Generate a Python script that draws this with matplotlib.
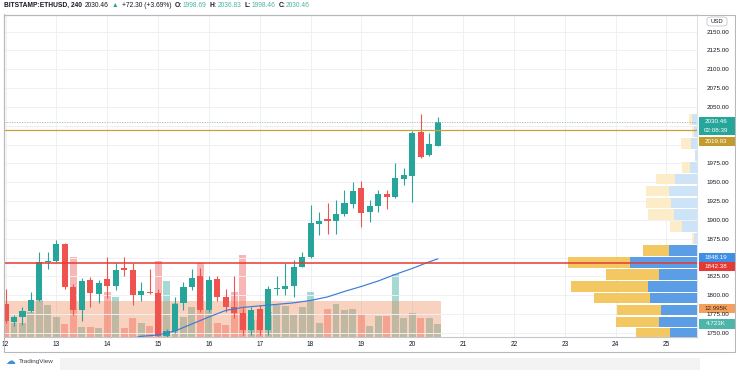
import numpy as np
import matplotlib
matplotlib.use("Agg")
import matplotlib.pyplot as plt
from matplotlib.patches import Rectangle, FancyBboxPatch
from matplotlib.transforms import blended_transform_factory

plt.rcParams['font.family'] = ['Liberation Sans', 'DejaVu Sans']

# BITSTAMP:ETHUSD 4h candles, first one is the 12th 00:00
opens = [1788, 1765, 1771, 1779, 1794, 1844, 1846, 1868, 1811, 1781,
         1820, 1802, 1821, 1812, 1836, 1833, 1801, 1805, 1803, 1746,
         1752, 1790, 1811, 1825, 1781, 1821, 1798, 1784, 1776, 1754,
         1782, 1754, 1808, 1808, 1812, 1838, 1851, 1895, 1901, 1898,
         1908, 1921, 1942, 1910, 1918, 1934, 1930, 1955, 1958, 2017,
         1986, 1998.69]
highs = [1808, 1774, 1785, 1804, 1858, 1858, 1874, 1869, 1815, 1823,
         1824, 1820, 1851, 1843, 1851, 1843, 1818, 1835, 1808, 1755,
         1798, 1818, 1835, 1836, 1825, 1825, 1809, 1825, 1783, 1785,
         1787, 1812, 1825, 1843, 1847, 1858, 1920, 1911, 1923, 1927,
         1940, 1951, 1952, 1927, 1940, 1940, 1976, 1969, 2018, 2041,
         2015, 2036.83]
lows = [1763, 1759, 1761, 1778, 1792, 1835, 1844, 1808, 1774, 1766,
        1784, 1790, 1796, 1807, 1825, 1787, 1792, 1802, 1741, 1744,
        1750, 1781, 1807, 1778, 1778, 1792, 1778, 1770, 1747, 1747,
        1747, 1747, 1800, 1800, 1798, 1837, 1849, 1880, 1882, 1882,
        1905, 1916, 1891, 1897, 1911, 1914, 1929, 1947, 1924, 1982,
        1985, 1998.46]
closes = [1766, 1771, 1779, 1794, 1844, 1846, 1868, 1811, 1781, 1819,
          1803, 1817, 1812, 1834, 1833, 1801, 1806, 1803, 1746, 1752,
          1789, 1811, 1823, 1781, 1820, 1798, 1784, 1776, 1754, 1781,
          1754, 1808, 1809, 1812, 1837, 1851, 1896, 1899, 1898, 1908,
          1922, 1939, 1909, 1918, 1934, 1930, 1956, 1959, 2015, 1984,
          2001, 2030.46]
# volume, thousands
volumes = [6.2, 5.2, 5.2, 9.2, 13.4, 11.6, 7.3, 4.7, 29.0, 3.6,
           3.6, 3.3, 16.4, 14.6, 3.2, 7.0, 5.0, 4.0, 27.6, 20.3,
           12.2, 7.2, 11.0, 26.8, 9.8, 5.0, 4.4, 16.4, 29.8, 6.2,
           6.2, 9.1, 11.6, 11.1, 8.0, 10.8, 16.4, 5.2, 10.1, 12.0,
           9.7, 10.1, 8.3, 4.0, 7.6, 7.6, 22.9, 6.8, 8.8, 6.8,
           6.8, 4.723]
vol_ma = 12.995

# blue moving average, read at candle indices
ma_idx = [15, 16, 18, 20, 22, 24, 26, 28, 30, 32, 34, 36, 38, 40, 42, 44, 46, 48, 50, 51]
ma_vals = [1743, 1745.6, 1747.4, 1752.7, 1762, 1771.3, 1780, 1784, 1786, 1788,
           1790, 1793.2, 1797.9, 1805.2, 1811.8, 1819.1, 1827.8, 1835.7, 1844.4, 1848.4]

# visible range volume profile, rows from bottom to top
prof_up = [27, 38, 36.3, 47.3, 49, 38, 67, 28, 3, 14.7, 23, 26.3, 28, 22, 7, 2, 6.3, 3, 4.7]
prof_down = [33.7, 43.3, 43.4, 55.7, 76.7, 53.3, 61.7, 26, 2.3, 12.6, 25.7, 24.4, 22.7, 19.3, 8.3, 0, 10, 2, 3.3]
value_area_rows = 8

days = list(range(12, 26))
price_ticks = np.arange(1750, 2151, 25)
hidden_ticks = [1850, 2000, 2025]

last_price = 2030.46
prev_close = 2019.93
support = 1842.38
va_high = 1848.19

GREEN = '#26a69a'
RED = '#ef5350'
TEXT = '#131722'

W_PX, H_PX = 736, 370
fig = plt.figure(figsize=(W_PX / 100, H_PX / 100), dpi=100)
L, R, T, B = 3.5, 697, 14.5, 337
axv = fig.add_axes([L / W_PX, 1 - B / H_PX, (R - L) / W_PX, (B - T) / H_PX])
axp = axv.twinx()
axr = axp.twiny()

n = len(opens)
idx = np.arange(n)
o = np.array(opens); c = np.array(closes); h = np.array(highs); lo = np.array(lows)
up = c >= o

xmin, xmax = -0.24, 81.6
ymin, ymax = 1744.7, 2172.6
axv.set_xlim(xmin, xmax)
axp.set_ylim(ymin, ymax)
vmax = 116.9
axv.set_ylim(0, vmax)

# grid
for d in range(len(days)):
    axv.axvline(d * 6, color='#eef0f4', lw=0.7, zorder=0)
for p in price_ticks:
    axp.axhline(p, color='#eef0f4', lw=0.7, zorder=0)

# volume bars + moving average band
vcol = [GREEN if u else RED for u in up]
axv.bar(idx, volumes, width=0.82, color=vcol, alpha=0.42, lw=0, zorder=1)
axv.fill_between([-0.5, n - 0.6], 0, vol_ma, color='#f08250', alpha=0.36, lw=0, zorder=2)

# candles
ccol = np.where(up, GREEN, RED)
axp.vlines(idx, lo, h, colors=ccol, lw=0.8, zorder=3)
body = np.maximum(np.abs(c - o), 1.2)
axp.bar(idx, body, bottom=np.minimum(o, c), width=0.72, color=ccol, lw=0, zorder=4)

axp.plot(ma_idx, ma_vals, color='#3d7bd6', lw=0.85, zorder=5)

# volume profile on the right
edges = np.linspace(min(lows), max(highs), len(prof_up) + 1)
rowh = edges[1] - edges[0]
centers = edges[:-1] + rowh / 2
dark = np.arange(len(prof_up)) < value_area_rows
axr.barh(centers, prof_up, height=rowh * 0.9, left=0,
         color=np.where(dark, '#5b9ee6', '#cde3f7'), lw=0, zorder=2)
axr.barh(centers, prof_down, height=rowh * 0.9, left=prof_up,
         color=np.where(dark, '#f3c862', '#fcecc8'), lw=0, zorder=2)
axr.set_xlim(R - L, 0)

# horizontal levels
axr.axhline(support, color='#e53935', lw=1.1, zorder=6)
axr.axhline(prev_close, color='#c9a13a', lw=0.9, zorder=6)
axr.axhline(last_price, color='#9fb8b4', lw=0.6, ls=(0, (1.5, 1.5)), zorder=6)

# axes cosmetics
axr.set_xticks([])
axr.tick_params(top=False, labeltop=False)
axv.set_yticks([])
axv.set_xticks([d * 6 for d in range(len(days))])
axv.set_xticklabels([str(d) for d in days])
axv.tick_params(axis='x', length=0, pad=3, labelsize=4.7, labelcolor=TEXT)
axp.set_yticks(price_ticks)
axp.set_yticklabels(['' if p in hidden_ticks else f'{p:.2f}' for p in price_ticks])
axp.tick_params(axis='y', length=0, pad=7, labelsize=4.5, labelcolor=TEXT)
for a in (axp, axr):
    for s in a.spines.values():
        s.set_visible(False)
for s in axv.spines.values():
    s.set_color('#c4c6cc')
    s.set_linewidth(0.8)
axv.spines['right'].set_color('#e0e2e6')

# frame around the whole widget
fig.patches.append(Rectangle((L / W_PX, 1 - 352 / H_PX), (735 - L) / W_PX, (352 - T) / H_PX,
                             transform=fig.transFigure, fill=False, ec='#b8b8b8', lw=0.8))

# price / volume tags on the right scale
px_price = (ymax - ymin) / (B - T)
px_vol = vmax / (B - T)
tr_p = blended_transform_factory(axp.transAxes, axp.transData)
tr_v = blended_transform_factory(axv.transAxes, axv.transData)
tw = 36 / (R - L)
x0 = 1.7 / (R - L) + 1


def tag(ax, tr, y, txt, fc, tc='white', hgt=9.2):
    ax.add_patch(Rectangle((x0, y - hgt / 2), tw, hgt, transform=tr, fc=fc, ec='none',
                           clip_on=False, zorder=10))
    ax.text(x0 + tw / 2 - 0.001, y, txt, transform=tr, ha='center', va='center', color=tc,
            fontsize=4.5, clip_on=False, zorder=11)


tag(axr, tr_p, last_price + 0.5 * px_price, '2030.46', '#26a69a', hgt=9.2 * px_price)
tag(axr, tr_p, last_price - 8.7 * px_price, '02:08:39', '#26a69a', hgt=9.2 * px_price)
tag(axr, tr_p, last_price - 20.0 * px_price, '2019.93', '#c39a2c', hgt=9.4 * px_price)
tag(axr, tr_p, va_high + 2.0 * px_price, '1848.19', '#3f8fe6', hgt=9 * px_price)
tag(axr, tr_p, support - 2.8 * px_price, '1842.38', '#e53935', hgt=9 * px_price)
tag(axv, tr_v, vol_ma - 7.6 * px_vol, '12.995K', '#f4a15d', tc='#3a2a10', hgt=9 * px_vol)
tag(axv, tr_v, volumes[-1], '4.723K', '#4db6a8', hgt=9.2 * px_vol)

# currency box
fig.patches.append(FancyBboxPatch((707 / W_PX, 1 - 26 / H_PX), 20 / W_PX, 9 / H_PX,
                                  boxstyle='round,pad=0,rounding_size=0.006',
                                  transform=fig.transFigure, fc='white', ec='#c8c8c8', lw=0.6))
fig.text(717 / W_PX, 1 - 21.5 / H_PX, 'USD', ha='center', va='center', fontsize=4.2, color=TEXT)

# header legend
parts = [('BITSTAMP:ETHUSD, 240', TEXT, 'bold'), ('2030.46', TEXT, 'normal'),
         ('▲', GREEN, 'normal'), ('+72.30 (+3.69%)', TEXT, 'normal'),
         ('O:', TEXT, 'bold'), ('1998.69', '#4cb3a4', 'normal'),
         ('H:', TEXT, 'bold'), ('2036.83', '#4cb3a4', 'normal'),
         ('L:', TEXT, 'bold'), ('1998.46', '#4cb3a4', 'normal'),
         ('C:', TEXT, 'bold'), ('2030.46', '#4cb3a4', 'normal')]
rend = fig.canvas.get_renderer()
xh = 3.5
tight = {'O:', 'H:', 'L:', 'C:'}
for s, col, wgt in parts:
    t = fig.text(xh / W_PX, 1 - 5.5 / H_PX, s, color=col, fontsize=4.8, fontweight=wgt,
                 va='center', ha='left')
    xh += t.get_window_extent(rend).width + (0.6 if s in tight else 3.3)

# logo
fig.text(5 / W_PX, 1 - 361 / H_PX, '☁', fontsize=7, color='#3d8fe0', va='center',
         family='DejaVu Sans')
fig.text(18.5 / W_PX, 1 - 361 / H_PX, 'TradingView', fontsize=4.6, color='#3a3e48', va='center')
fig.patches.append(Rectangle((60 / W_PX, 0), 640 / W_PX, 12 / H_PX, transform=fig.transFigure,
                             fc='#f3f3f3', ec='none'))

fig.savefig('out.png', dpi=100)
